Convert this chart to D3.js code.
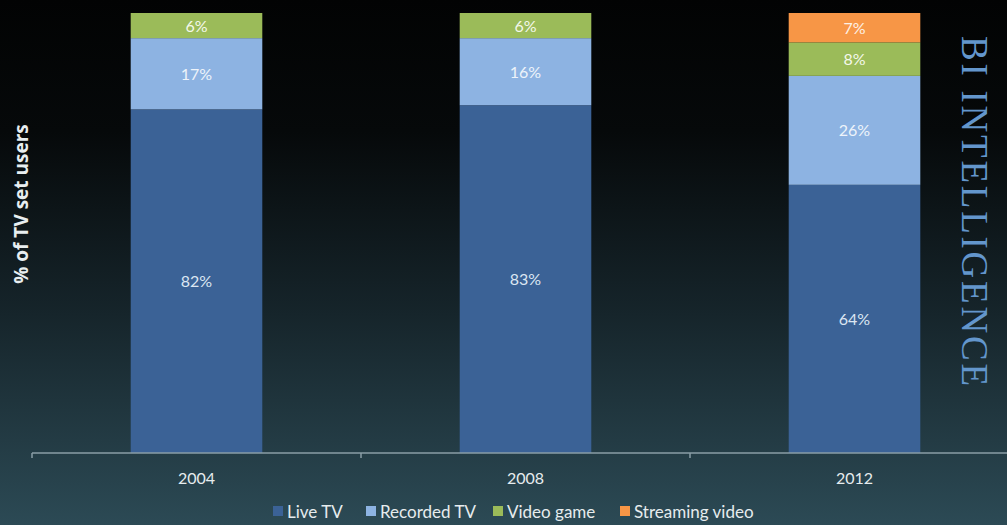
<!DOCTYPE html>
<html>
<head>
<meta charset="utf-8">
<script src="https://cdn.jsdelivr.net/npm/d3@7"></script>
<style>
  html, body { margin: 0; padding: 0; background: #000; }
  svg { display: block; }
</style>
</head>
<body>
<svg id="chart" width="1007" height="525"></svg>
<script>
// Share of TV set users by activity (stacked, %)
const years = ["2004", "2008", "2012"];
const seriesNames = ["Live TV", "Recorded TV", "Video game", "Streaming video"];
const liveTV = [82, 83, 64];
const recordedTV = [17, 16, 26];
const videoGame = [6, 6, 8];
const streamingVideo = [0, 0, 7];
const colors = ["#3b6296", "#8db3e2", "#9bbb59", "#f79646"];

const width = 1007, height = 525;
const svg = d3.select("#chart");

// Background: near-black at the top fading to dark teal at the bottom
const defs = svg.append("defs");
const bg = defs.append("linearGradient").attr("id", "bg").attr("x1", 0).attr("y1", 0).attr("x2", 0).attr("y2", 1);
bg.append("stop").attr("offset", "0%").attr("stop-color", "#020303");
bg.append("stop").attr("offset", "25%").attr("stop-color", "#06090a");
bg.append("stop").attr("offset", "60%").attr("stop-color", "#16252b");
bg.append("stop").attr("offset", "100%").attr("stop-color", "#2c4a55");
svg.append("rect").attr("width", width).attr("height", height).attr("fill", "url(#bg)");

const rows = years.map((y, i) => ({
  year: y,
  "Live TV": liveTV[i],
  "Recorded TV": recordedTV[i],
  "Video game": videoGame[i],
  "Streaming video": streamingVideo[i]
}));
const stacked = d3.stack().keys(seriesNames)(rows);

const x = d3.scaleBand().domain(years).range([32, 1019]).paddingInner(0.6).paddingOuter(0.3);
const y = d3.scaleLinear().domain([0, 105]).range([453, 13]);

// Bars
const layers = svg.append("g").selectAll("g").data(stacked).join("g")
  .attr("fill", (d, i) => colors[i]);
layers.selectAll("rect").data(d => d.filter(s => s[1] - s[0] > 0).map(s => ({s, key: d.key})))
  .join("rect")
  .attr("x", d => x(d.s.data.year))
  .attr("width", x.bandwidth())
  .attr("y", d => y(d.s[1]))
  .attr("height", d => y(d.s[0]) - y(d.s[1]));

// Value labels inside segments
const labelColor = ["#dce6f2", "#eef3fa", "#f4f8ea", "#fdf0e4"];
stacked.forEach((layer, li) => {
  svg.append("g").selectAll("text").data(layer.filter(s => s[1] - s[0] > 0)).join("text")
    .attr("x", s => x(s.data.year) + x.bandwidth() / 2)
    .attr("y", s => y((s[0] + s[1]) / 2) + 6)
    .attr("text-anchor", "middle")
    .attr("font-family", "Lato, 'Open Sans', sans-serif")
    .attr("font-size", 16)
    .attr("fill", labelColor[li])
    .text(s => (s[1] - s[0]) + "%");
});

// X axis
const axisColor = "#8a9ea6";
const axisG = svg.append("g").attr("transform", `translate(0,${y(0)})`);
axisG.append("line").attr("x1", 32).attr("x2", 1007).attr("y1", 0).attr("y2", 0)
  .attr("stroke", axisColor).attr("stroke-width", 1.5);
const tickPos = [32].concat(years.map(yr => x(yr) - x.step() * x.paddingInner() / 2 + x.step()));
axisG.selectAll("line.tick").data(tickPos.slice(0, 3)).join("line")
  .attr("class", "tick")
  .attr("x1", d => d).attr("x2", d => d).attr("y1", 0).attr("y2", 5)
  .attr("stroke", axisColor).attr("stroke-width", 1.5);
axisG.selectAll("text").data(years).join("text")
  .attr("x", d => x(d) + x.bandwidth() / 2)
  .attr("y", 31)
  .attr("text-anchor", "middle")
  .attr("font-family", "Lato, 'Open Sans', sans-serif")
  .attr("font-size", 16)
  .attr("fill", "#e6ecee")
  .text(d => d);

// Y axis title
svg.append("text")
  .attr("transform", "translate(28,204) rotate(-90)")
  .attr("text-anchor", "middle")
  .attr("font-family", "'Open Sans', Lato, sans-serif")
  .attr("font-weight", "bold")
  .attr("font-size", 19)
  .attr("fill", "#e8eef0")
  .text("% of TV set users");

// Legend
const legendX = [273, 366, 493, 620];
const legend = svg.append("g").selectAll("g").data(seriesNames).join("g")
  .attr("transform", (d, i) => `translate(${legendX[i]},506)`);
legend.append("rect").attr("width", 10).attr("height", 10).attr("fill", (d, i) => colors[i]);
legend.append("text").attr("x", 14).attr("y", 12)
  .attr("font-family", "Lato, 'Open Sans', sans-serif")
  .attr("font-size", 17)
  .attr("fill", "#e6ecee")
  .text(d => d);

// Brand mark
svg.append("text")
  .attr("transform", "translate(962,211) rotate(90)")
  .attr("text-anchor", "middle")
  .attr("font-family", "'Liberation Serif', 'DejaVu Serif', serif")
  .attr("font-size", 37)
  .attr("fill", "#6396cc")
  .attr("textLength", 350)
  .attr("lengthAdjust", "spacing")
  .text("BI INTELLIGENCE");
</script>
</body>
</html>
